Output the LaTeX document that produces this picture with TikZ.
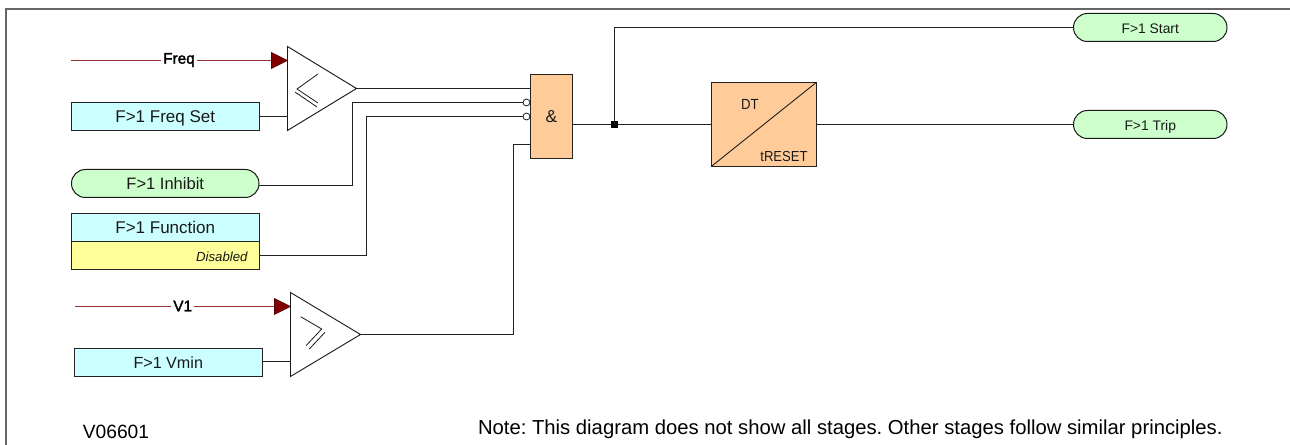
\documentclass[tikz,border=0pt]{standalone}
\usepackage{fontspec}
\setmainfont{Liberation Sans}
\newfontfamily\fakebold[FakeBold=2]{Liberation Sans}
\newfontfamily\narrowf[FakeStretch=0.9]{Liberation Sans}
\definecolor{setcyan}{HTML}{CCFFFF}
\definecolor{pillgreen}{HTML}{CCFFCC}
\definecolor{stateyellow}{HTML}{FFFF99}
\definecolor{logicorange}{HTML}{FFCC99}
\definecolor{signalred}{HTML}{800000}
\definecolor{wirecol}{HTML}{222222}
\newcommand{\fs}[1]{\fontsize{#1}{#1}\selectfont}
\tikzset{
  x=0.75pt, y=-0.75pt,
  every node/.style={inner sep=0pt, outer sep=0pt, text=black!90},
  capfit/.style={text height=0.84em, text depth=0pt},
  wire/.style={draw=wirecol, line width=0.75pt},
  signal/.style={draw=signalred!80!white, line width=0.85pt},
  setbox/.style={draw=wirecol, line width=0.75pt, fill=setcyan, minimum width=140.625pt, minimum height=21pt, font=\fs{12.75pt}, capfit},
  statebox/.style={draw=wirecol, line width=0.75pt, fill=stateyellow, minimum width=140.625pt, minimum height=21pt},
  pill/.style={draw=black!90, line width=0.75pt, fill=pillgreen, rounded corners=10.4pt, minimum height=21pt, capfit},
  inpill/.style={pill, minimum width=140.625pt, font=\fs{12.4pt}},
  outpill/.style={pill, minimum width=115.1pt, font=\fs{10.4pt}},
  logic/.style={draw=wirecol, line width=0.75pt, fill=logicorange},
  comp/.style={draw=black!90, line width=0.7pt, fill=white},
  glyph/.style={draw=black!90, line width=0.6pt},
  siglabel/.style={fill=white, inner xsep=1.5pt, inner ysep=0.5pt, font=\fakebold\fs{11.5pt}, text=black},
  bubble/.style={circle, draw=wirecol, line width=0.6pt, fill=white, minimum size=5.2pt},
  junction/.style={fill=black, minimum size=5pt},
  sigtip/.style={fill=signalred, draw=signalred!70!black, line width=0.4pt},
}
\begin{document}
\begin{tikzpicture}
\useasboundingbox (0,0) rectangle (1290,445);
\fill[white] (0,0) rectangle (1290,445);
% frame
\coordinate (fa) at (5.5,445); \coordinate (fb) at (5.5,9); \coordinate (fc) at (1290,9);
\draw[draw=black!60, line width=1.5pt] (fa) -- (fb) -- (fc);

% comparators
\coordinate (c1a) at (287.5,46.5); \coordinate (c1b) at (287.5,130.5); \coordinate (c1o) at (356.5,88.5);
\coordinate (c1i) at (287.5,60.5); \coordinate (c1s) at (287.5,116.5);
\coordinate (c2a) at (290.5,292.5); \coordinate (c2b) at (290.5,376.5); \coordinate (c2o) at (360.5,334.5);
\coordinate (c2i) at (290.5,306.5); \coordinate (c2s) at (290.5,361.5);

% logic
\node[logic, minimum width=31.5pt, minimum height=63pt, font=\fs{13pt}, capfit] (and) at (551.5,116.5) {\&};
\node[logic, minimum width=78.75pt, minimum height=63pt] (dt) at (763.75,124.5) {};
\node[font=\narrowf\fs{11pt}, capfit] (dtl) at (750,104) {DT};
\node[font=\narrowf\fs{10.9pt}, capfit] (dtr) at (784,156) {tRESET};
\coordinate (in1) at (530.5,88.5);
\coordinate (in2) at (526.5,102.5);
\coordinate (in3) at (526.5,116.5);
\coordinate (in4) at (530.5,144.5);
\node[bubble] (b2) at (in2) {};
\node[bubble] (b3) at (in3) {};

% inputs
\node[setbox] (fset) at (165.25,116.5) {F>1 Freq Set};
\node[inpill] (inh) at (165.25,183.5) {F>1 Inhibit};
\node[setbox] (func) at (165.25,227.5) {F>1 Function};
\node[statebox] (dis) at (165.25,255.5) {};
\node[font=\itshape\fs{9.9pt}, anchor=east, capfit] (distxt) at (247.5,256) {Disabled};
\node[setbox, font=\fs{12.1pt}] (vmin) at (168.25,362.5) {F>1 Vmin};

% outputs
\node[outpill] (start) at (1150.25,27.5) {F>1 Start};
\node[outpill] (trip) at (1150.25,124.5) {F>1 Trip};

% signal lines
\coordinate (f0) at (71,60.5);
\coordinate (v0) at (74.5,306.5);
\draw[signal] (f0) -- (c1i);
\draw[signal] (v0) -- (c2i);
\node[siglabel] (flbl) at (179,60) {Freq};
\node[siglabel] (vlbl) at (182.7,306) {V1};
\fill[sigtip] (c1i) -- ++(-16,-8) -- ++(0,16) -- cycle;
\fill[sigtip] (c2i) -- ++(-16,-8) -- ++(0,16) -- cycle;

% comparator bodies
\draw[comp, line join=miter] (c1a) -- (c1o) -- (c1b) -- cycle;
\draw[comp, line join=miter] (c2a) -- (c2o) -- (c2b) -- cycle;
\draw[glyph] (318,74) -- (297,89) -- (318,103);
\draw[glyph] (295,92) -- (317,107);
\draw[glyph] (300.7,316.7) -- (321.7,329) -- (306,345.7);
\draw[glyph] (325,332.3) -- (309.3,349);

% wires
\draw[wire] (fset.east |- c1s) -- (c1s);
\draw[wire] (vmin.east |- c2s) -- (c2s);
\draw[wire] (c1o) -- (in1);
\draw[wire] (inh.east |- 0,185.5) -| (352.5,102.5) -- (b2.west);
\draw[wire] (dis.east) -| (366.5,116.5) -- (b3.west);
\draw[wire] (c2o) -| (513.5,144.5) -- (in4);
\draw[wire] (and.east |- dt.west) -- (dt.west);
\node[junction] (jn) at (614.5,124.5) {};
\draw[wire] (jn.center) |- (start.west);
\draw[wire] (dt.east) -- (trip.west);
\draw[draw=black!90, line width=0.7pt] (dt.south west) -- (dt.north east);

% notes
\node[font=\fs{14.4pt}, text=black, anchor=base] (ver) at (116,439) {V06601};
\node[font=\fs{15.2pt}, text=black, anchor=base west] (note) at (478,434.5) {\frenchspacing Note: This diagram does not show all stages. Other stages follow similar principles.};
\end{tikzpicture}
\end{document}
